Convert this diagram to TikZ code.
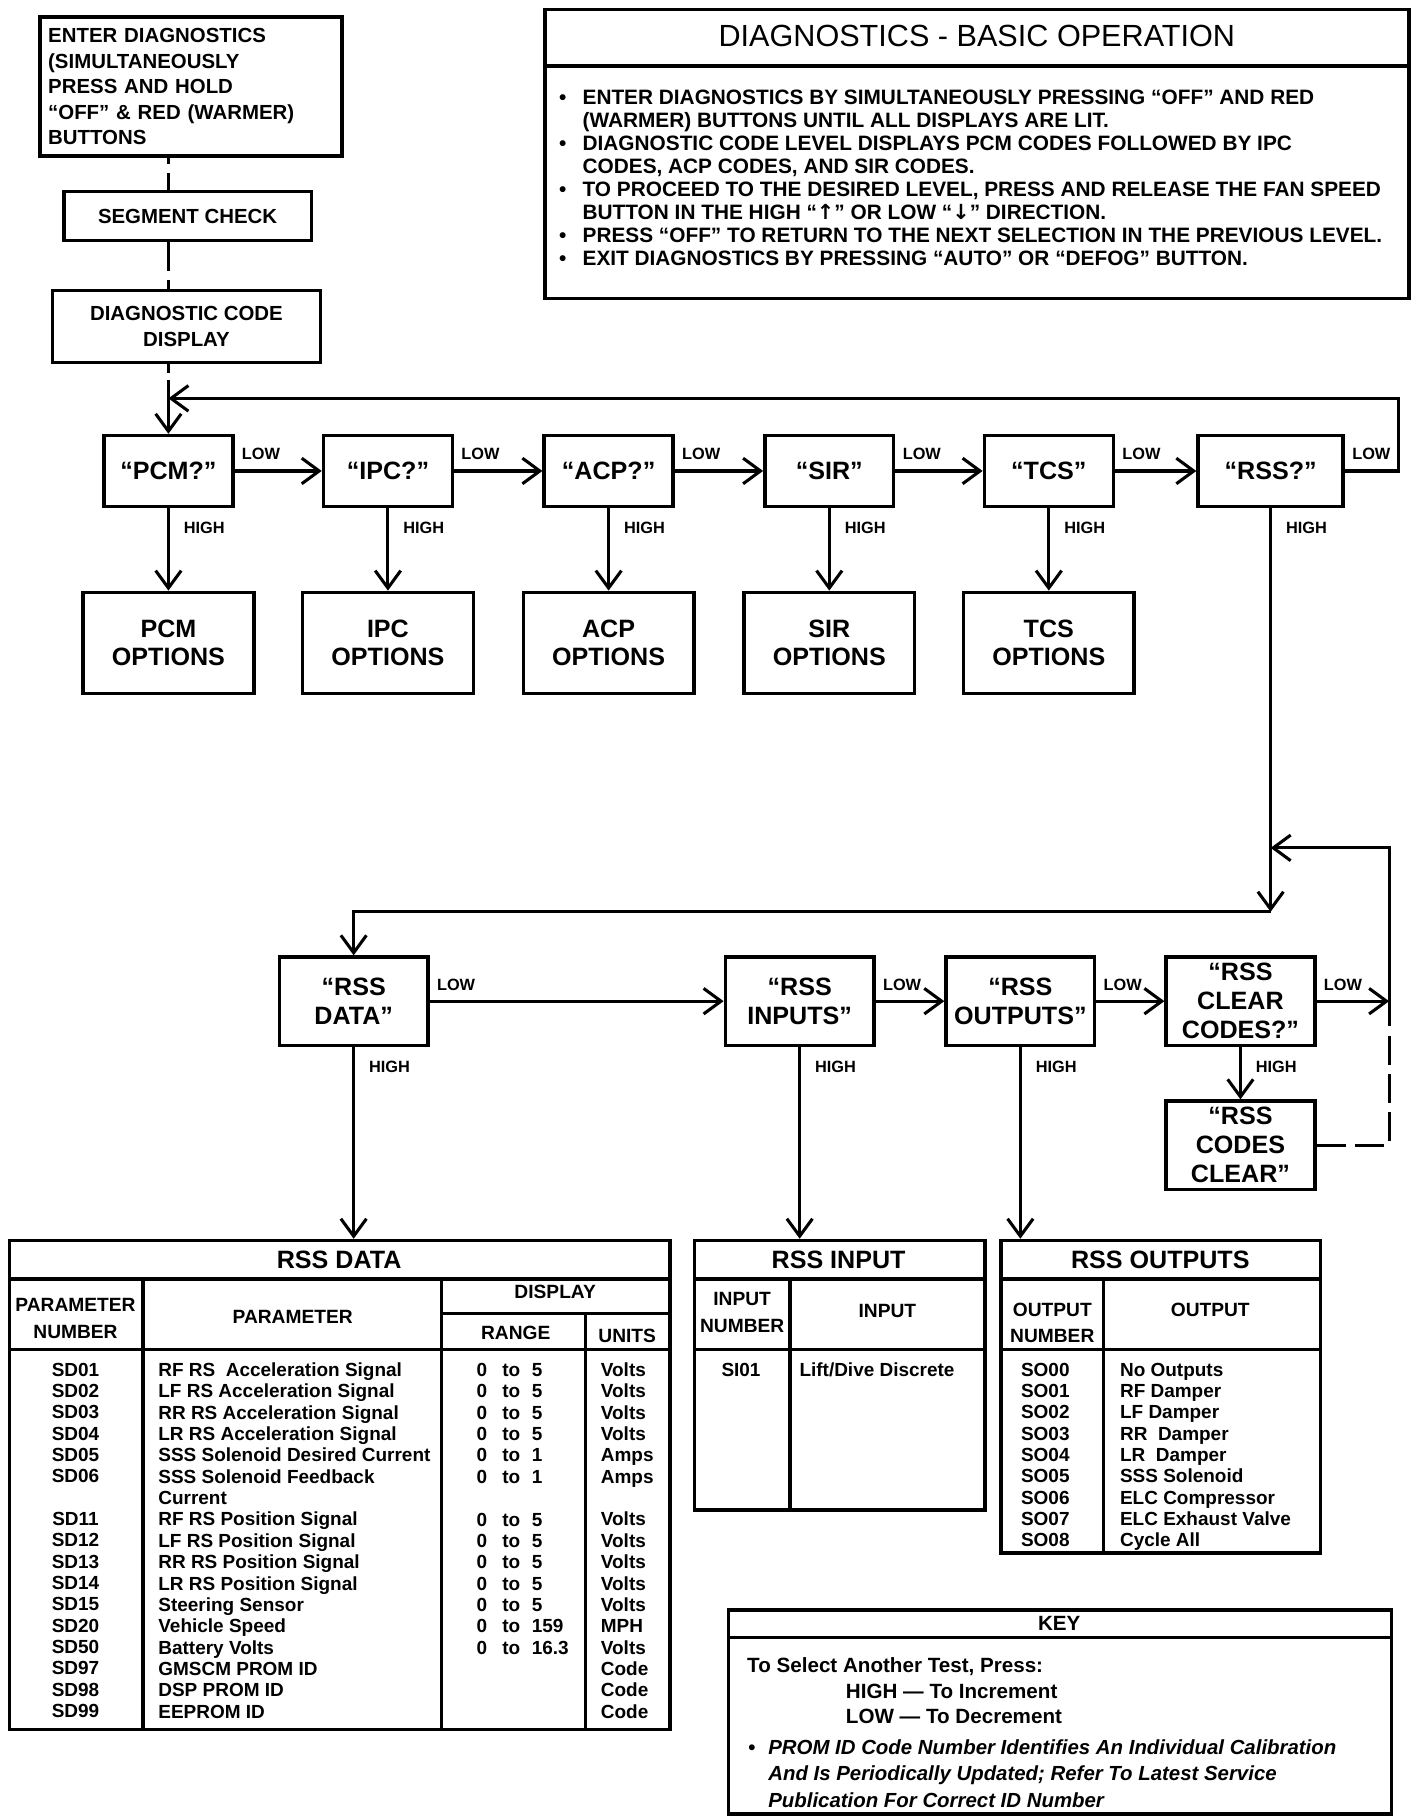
\documentclass[tikz,border=0pt]{standalone}
\usepackage{fontspec}
\setmainfont{Liberation Sans}
\newfontfamily\arrowfont{DejaVu Sans}
\usetikzlibrary{arrows.meta}

\newcommand{\fbody}{\fontsize{10}{12.5}\selectfont\bfseries}
\newcommand{\finfo}{\fontsize{10.2}{11.3}\selectfont\bfseries}
\newcommand{\ftitle}{\fontsize{15}{18}\selectfont}
\newcommand{\fbig}{\fontsize{12.3}{14.2}\selectfont\bfseries}
\newcommand{\flab}{\fontsize{8}{9}\selectfont\bfseries}
\newcommand{\fhead}{\fontsize{9.4}{13}\selectfont\bfseries}
\newcommand{\frow}{\fontsize{9.3}{10.46}\selectfont\bfseries}
\newcommand{\fkey}{\fontsize{10.1}{12.5}\selectfont\bfseries}
\newcommand{\fnote}{\fontsize{10}{13}\selectfont\bfseries\itshape}

\begin{document}
\begin{tikzpicture}[x=0.02cm,y=-0.02cm,
           box_style/.style={draw=black,line width=1.7pt,inner sep=0pt,align=center},
           sel_style/.style={box_style,minimum width=2.22cm,minimum height=1.22cm,font=\fbig},
           opt_style/.style={box_style,minimum width=2.94cm,minimum height=1.74cm,font=\fbig},
           rss_style/.style={box_style,minimum width=2.56cm,minimum height=1.52cm,font=\fbig},
           tab_style/.style={draw=black,line width=1.7pt,inner sep=0pt},
           rule_style/.style={draw=black,line width=1.7pt},
           line_style/.style={draw=black,line width=1.5pt},
           edge_style/.style={line_style,-{Straight Barb[length=0.3cm,width=0.44cm]}},
           dash_style/.style={line_style,dash pattern=on 0.5cm off 0.16cm},
           low_style/.style={pos=0,anchor=south west,inner sep=0pt,xshift=0.1cm,yshift=0.16cm,font=\flab},
           high_style/.style={pos=0,anchor=north west,inner sep=0pt,xshift=0.24cm,yshift=-0.22cm,font=\flab},
           cell_style/.style={inner sep=0pt,font=\frow}]
            \useasboundingbox (0,0) rectangle (1226,1567);
            \node[box_style,anchor=north west,align=left,text width=4.92cm,minimum height=2.4cm,inner xsep=0.14cm,font=\fbody] (enter) at (33,13) {ENTER DIAGNOSTICS\\(SIMULTANEOUSLY\\PRESS AND HOLD\\“OFF” \& RED (WARMER)\\BUTTONS};
            \node[box_style,minimum width=4.26cm,minimum height=0.84cm,font=\fbody] (seg) at (161.5,186) {SEGMENT CHECK};
            \node[box_style,minimum width=4.62cm,minimum height=1.24cm,font=\fbody] (dcd) at (160.5,281) {DIAGNOSTIC CODE\\DISPLAY};
            \node[box_style,minimum width=14.88cm,minimum height=4.98cm] (info) at (841,132.5) {};
            \node[font=\ftitle] (infotitle) at (841,31) {DIAGNOSTICS - BASIC OPERATION};
            \draw[rule_style] (469,57) -- (1213,57);
            \node[anchor=north west,inner sep=0pt,font=\finfo] (infotext) at (481,75.5) {\begin{tabular}{@{}l@{\hspace{0.28cm}}l@{}}
              • & ENTER DIAGNOSTICS BY SIMULTANEOUSLY PRESSING “OFF” AND RED\\
                & (WARMER) BUTTONS UNTIL ALL DISPLAYS ARE LIT.\\
              • & DIAGNOSTIC CODE LEVEL DISPLAYS PCM CODES FOLLOWED BY IPC\\
                & CODES, ACP CODES, AND SIR CODES.\\
              • & TO PROCEED TO THE DESIRED LEVEL, PRESS AND RELEASE THE FAN SPEED\\
                & BUTTON IN THE HIGH “{\arrowfont ↑}” OR LOW “{\arrowfont ↓}” DIRECTION.\\
              • & PRESS “OFF” TO RETURN TO THE NEXT SELECTION IN THE PREVIOUS LEVEL.\\
              • & EXIT DIAGNOSTICS BY PRESSING “AUTO” OR “DEFOG” BUTTON.
            \end{tabular}};
            \node[sel_style] (pcm) at (145,405.5) {“PCM?”};
            \node[sel_style] (ipc) at (334,405.5) {“IPC?”};
            \node[sel_style] (acp) at (524,405.5) {“ACP?”};
            \node[sel_style] (sir) at (714,405.5) {“SIR”};
            \node[sel_style] (tcs) at (903,405.5) {“TCS”};
            \node[sel_style,minimum width=2.5cm] (rss) at (1094,405.5) {“RSS?”};
            \node[opt_style] (pcmopt) at (145,553.5) {PCM\\OPTIONS};
            \node[opt_style] (ipcopt) at (334,553.5) {IPC\\OPTIONS};
            \node[opt_style] (acpopt) at (524,553.5) {ACP\\OPTIONS};
            \node[opt_style] (siropt) at (714,553.5) {SIR\\OPTIONS};
            \node[opt_style] (tcsopt) at (903,553.5) {TCS\\OPTIONS};
            \coordinate (topret) at (1204,343);
            \coordinate (rssjoin) at (1094,785);
            \coordinate (midret) at (1196,730);
            \draw[dash_style,dash phase=0.4cm] (enter.south -| pcm) -- (seg.north -| pcm);
            \draw[dash_style] (seg.south -| pcm) -- (dcd.north -| pcm);
            \draw[dash_style,dash pattern=on 0.16cm off 0.12cm on 1cm] (dcd.south -| pcm) -- (topret -| pcm);
            \draw[edge_style] (topret -| pcm) -- (pcm.north);
            \draw[edge_style] (rss.east) -| node[low_style]{LOW} (topret) -- (topret -| pcm);
            \draw[edge_style] (pcm) edge node[low_style]{LOW} (ipc);
            \draw[edge_style] (ipc) edge node[low_style]{LOW} (acp);
            \draw[edge_style] (acp) edge node[low_style]{LOW} (sir);
            \draw[edge_style] (sir) edge node[low_style]{LOW} (tcs);
            \draw[edge_style] (tcs) edge node[low_style]{LOW} (rss);
            \draw[edge_style] (pcm) edge node[high_style]{HIGH} (pcmopt);
            \draw[edge_style] (ipc) edge node[high_style]{HIGH} (ipcopt);
            \draw[edge_style] (acp) edge node[high_style]{HIGH} (acpopt);
            \draw[edge_style] (sir) edge node[high_style]{HIGH} (siropt);
            \draw[edge_style] (tcs) edge node[high_style]{HIGH} (tcsopt);
            \draw[edge_style] (rss) edge node[high_style]{HIGH} (rssjoin);
            \node[rss_style] (rssdata) at (304.5,862) {“RSS\\DATA”};
            \node[rss_style] (rssin) at (688.5,862) {“RSS\\INPUTS”};
            \node[rss_style] (rssout) at (878.5,862) {“RSS\\OUTPUTS”};
            \node[rss_style] (clear) at (1068,862) {“RSS\\CLEAR\\CODES?”};
            \node[rss_style] (codesclr) at (1068,986) {“RSS\\CODES\\CLEAR”};
            \draw[edge_style] (rssjoin) -| (rssdata.north);
            \draw[edge_style] (rssdata) edge node[low_style]{LOW} (rssin);
            \draw[edge_style] (rssin) edge node[low_style]{LOW} (rssout);
            \draw[edge_style] (rssout) edge node[low_style]{LOW} (clear);
            \draw[edge_style] (clear.east) -- node[low_style]{LOW} (clear.east -| midret);
            \draw[edge_style] (clear.east -| midret) -- (midret) -- (midret -| rss);
            \draw[dash_style] (codesclr.east) -| (clear.east -| midret);
            \draw[edge_style] (clear) edge node[high_style]{HIGH} (codesclr);
            \node[tab_style,minimum width=11.38cm,minimum height=8.42cm] (datatab) at (292.5,1278.5) {};
            \node[tab_style,minimum width=5cm,minimum height=4.64cm] (intab) at (723,1184) {};
            \node[tab_style,minimum width=5.5cm,minimum height=5.38cm] (outtab) at (999.5,1202.5) {};
            \node[tab_style,minimum width=11.42cm,minimum height=3.52cm] (keybox) at (912.5,1474) {};
            \draw[edge_style] (rssdata.south) -- node[high_style]{HIGH} (rssdata.south |- datatab.north);
            \draw[edge_style] (rssin.south) -- node[high_style]{HIGH} (rssin.south |- intab.north);
            \draw[edge_style] (rssout.south) -- node[high_style]{HIGH} (rssout.south |- outtab.north);
            \draw[rule_style] (8,1101) -- (577,1101);
            \draw[rule_style] (8,1162) -- (577,1162);
            \draw[rule_style] (380,1131) -- (577,1131);
            \draw[rule_style] (123,1101) -- (123,1489);
            \draw[rule_style] (380,1101) -- (380,1489);
            \draw[rule_style] (504,1131) -- (504,1489);
            \node[font=\fbig] (datatitle) at (292,1085) {RSS DATA};
            \node[font=\fhead,align=center] (dhnum) at (65,1135) {PARAMETER\\NUMBER};
            \node[font=\fhead] (dhpar) at (252,1134) {PARAMETER};
            \node[font=\fhead] (dhdisp) at (478,1112) {DISPLAY};
            \node[font=\fhead] (dhrange) at (444,1148) {RANGE};
            \node[font=\fhead] (dhunits) at (540,1150) {UNITS};
            \node[cell_style,anchor=north,align=center] (dnums) at (65,1173) {SD01\\SD02\\SD03\\SD04\\SD05\\SD06\\\mbox{}\\SD11\\SD12\\SD13\\SD14\\SD15\\SD20\\SD50\\SD97\\SD98\\SD99};
            \node[cell_style,anchor=north west,align=left] (dnames) at (136,1173) {RF RS\ \ Acceleration Signal\\LF RS Acceleration Signal\\RR RS Acceleration Signal\\LR RS Acceleration Signal\\SSS Solenoid Desired Current\\SSS Solenoid Feedback\\Current\\RF RS Position Signal\\LF RS Position Signal\\RR RS Position Signal\\LR RS Position Signal\\Steering Sensor\\Vehicle Speed\\Battery Volts\\GMSCM PROM ID\\DSP PROM ID\\EEPROM ID};
            \node[cell_style,anchor=north west] (dranges) at (410,1172) {\begin{tabular}{@{}l@{\hspace{0.26cm}}l@{\hspace{0.2cm}}l@{}}
              0 & to & 5\\ 0 & to & 5\\ 0 & to & 5\\ 0 & to & 5\\ 0 & to & 1\\ 0 & to & 1\\ & & \\
              0 & to & 5\\ 0 & to & 5\\ 0 & to & 5\\ 0 & to & 5\\ 0 & to & 5\\ 0 & to & 159\\ 0 & to & 16.3
            \end{tabular}};
            \node[cell_style,anchor=north west,align=left] (dunits) at (517,1173) {Volts\\Volts\\Volts\\Volts\\Amps\\Amps\\\mbox{}\\Volts\\Volts\\Volts\\Volts\\Volts\\MPH\\Volts\\Code\\Code\\Code};
            \draw[rule_style] (598,1101) -- (848,1101);
            \draw[rule_style] (598,1162) -- (848,1162);
            \draw[rule_style] (680,1101) -- (680,1300);
            \node[font=\fbig] (intitle) at (722,1085) {RSS INPUT};
            \node[font=\fhead,align=center] (ihnum) at (639,1130) {INPUT\\NUMBER};
            \node[font=\fhead] (ihin) at (764,1129) {INPUT};
            \node[cell_style,anchor=north] (inums) at (638,1173) {SI01};
            \node[cell_style,anchor=north west] (inames) at (688,1173) {Lift/Dive Discrete};
            \draw[rule_style] (862,1101) -- (1137,1101);
            \draw[rule_style] (862,1162) -- (1137,1162);
            \draw[rule_style] (950,1101) -- (950,1337);
            \node[font=\fbig] (outtitle) at (999,1085) {RSS OUTPUTS};
            \node[font=\fhead,align=center] (ohnum) at (906,1139) {OUTPUT\\NUMBER};
            \node[font=\fhead] (ohout) at (1042,1128) {OUTPUT};
            \node[cell_style,anchor=north,align=center] (onums) at (900,1173) {SO00\\SO01\\SO02\\SO03\\SO04\\SO05\\SO06\\SO07\\SO08};
            \node[cell_style,anchor=north west,align=left] (onames) at (964,1173) {No Outputs\\RF Damper\\LF Damper\\RR\ \ Damper\\LR\ \ Damper\\SSS Solenoid\\ELC Compressor\\ELC Exhaust Valve\\Cycle All};
            \draw[rule_style] (627,1410) -- (1198,1410);
            \node[font=\fkey] (keytitle) at (912,1398) {KEY};
            \node[anchor=north west,inner sep=0pt,align=left,font=\fkey] (keytext) at (643,1427) {To Select Another Test, Press:\\\hspace{1.7cm}HIGH — To Increment\\\hspace{1.7cm}LOW — To Decrement};
            \node[anchor=north west,inner sep=0pt,font=\fnote] (keynote) at (644,1494) {\begin{tabular}{@{}l@{\hspace{0.22cm}}l@{}}
              \upshape • & PROM ID Code Number Identifies An Individual Calibration\\
                & And Is Periodically Updated; Refer To Latest Service\\
                & Publication For Correct ID Number
            \end{tabular}};
        \end{tikzpicture}
\end{document}
